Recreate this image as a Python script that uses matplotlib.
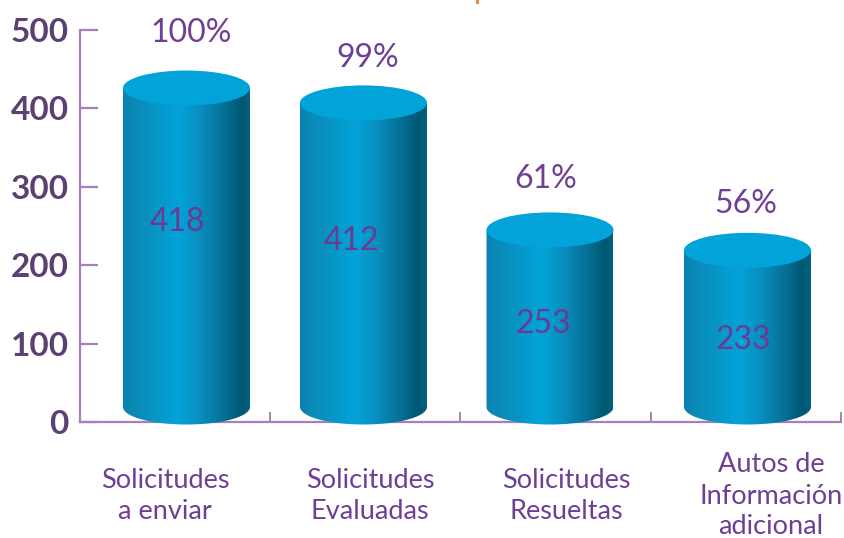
import matplotlib
matplotlib.use('Agg')
import matplotlib.pyplot as plt
import numpy as np
from matplotlib.colors import LinearSegmentedColormap
from matplotlib.patches import Ellipse, PathPatch
from matplotlib.path import Path

categories = ['Solicitudes\na enviar', 'Solicitudes\nEvaluadas', 'Solicitudes\nResueltas',
              'Autos de\nInformación\nadicional']
values = [418, 412, 253, 233]
percents = ['100%', '99%', '61%', '56%']
# the drawn heights in the picture do not quite follow the printed values
drawn_heights = [426, 407, 245, 219]
y_ticks = [0, 100, 200, 300, 400, 500]

W, H = 845, 538
AX_L, AX_R, AX_TOP, AX_BOT = 80, 841, 30, 422
PX = (AX_BOT - AX_TOP) / 500  # pixels per y unit

centers = [186.5, 363.5, 550, 747.5]
half_w = 63.5
ry = 17.5 / PX
x_ticks = [270, 460, 651, 841]
pct_pos = [(191, 33), (368, 58), (546, 179), (746, 204)]
val_pos = [(177, 222), (351, 241), (543, 324), (743, 340)]
cat_pos = [(165, 496), (370, 496), (566, 496), (771, 496)]

PURPLE = '#6f3f96'
AXIS = '#a77fbf'
plt.rcParams['font.family'] = ['Lato', 'DejaVu Sans']

cyl_cmap = LinearSegmentedColormap.from_list('cyl', [
    (0.0, '#0a83b0'), (0.14, '#0a8dbb'), (0.44, '#02a3d9'), (0.60, '#0a8fc0'),
    (0.80, '#056f94'), (0.94, '#005872'), (1.0, '#04627f')])


def py(pix):
    return (AX_BOT - pix) / PX


fig = plt.figure(figsize=(W / 100, H / 100), dpi=100)
ax = fig.add_axes([AX_L / W, 1 - AX_BOT / H, (AX_R - AX_L) / W, (AX_BOT - AX_TOP) / H])
grad = np.linspace(0, 1, 256).reshape(1, -1)

for cx, h in zip(centers, drawn_heights):
    left, right = cx - half_w, cx + half_w
    base = py(407)
    # side of the cylinder, with the rounded bottom
    t = np.linspace(np.pi, 2 * np.pi, 60)
    bx = cx + half_w * np.cos(t)
    by = base + ry * np.sin(t)
    verts = [(left, h)] + list(zip(bx, by)) + [(right, h), (left, h)]
    codes = [Path.MOVETO] + [Path.LINETO] * (len(verts) - 2) + [Path.CLOSEPOLY]
    side = PathPatch(Path(verts, codes), fc='none', ec='none', clip_on=False)
    ax.add_patch(side)
    im = ax.imshow(grad, cmap=cyl_cmap, extent=(left, right, -ry, h), aspect='auto',
                   interpolation='bilinear', zorder=3)
    im.set_clip_path(side)
    im.set_clip_box(fig.bbox)  # the rounded bottom hangs below the axis
    ax.add_patch(Ellipse((cx, h), 2 * half_w, 2 * ry, fc='#02a3d9', ec='none', zorder=4,
                         clip_on=False))
ax.set_xlim(AX_L, AX_R)
ax.set_ylim(0, 500)

for s in ['top', 'right']:
    ax.spines[s].set_visible(False)
for s in ['left', 'bottom']:
    ax.spines[s].set_color(AXIS)
    ax.spines[s].set_linewidth(1.6)
ax.set_xticks(x_ticks)
ax.set_xticklabels([])
ax.tick_params(axis='x', direction='in', length=7, width=1.4, color=AXIS)
ax.set_yticks(y_ticks)
ax.set_yticklabels([])
ax.tick_params(axis='y', direction='in', length=13, width=1.6, color=AXIS)

for t in y_ticks:
    ax.text(AX_L - 11, t - 2.5 / PX, str(t), ha='right', va='center', fontsize=24,
            fontweight='bold', color='#5b4072', clip_on=False)
for (x, y), v in zip(val_pos, values):
    ax.text(x, py(y), str(v), ha='center', va='center', fontsize=23, color='#6b3a94', zorder=5)
for (x, y), p in zip(pct_pos, percents):
    ax.text(x, py(y), p, ha='center', va='center', fontsize=23, color=PURPLE, clip_on=False)
for (x, y), c in zip(cat_pos, categories):
    ax.text(x, py(y), c, ha='center', va='center', fontsize=19.5, color=PURPLE,
            linespacing=1.3, clip_on=False)

# tip of the cropped title at the top edge
ax.plot([477, 477], [py(0), py(2)], color='#e8842a', lw=2, clip_on=False)

fig.savefig('out.png', dpi=100)
